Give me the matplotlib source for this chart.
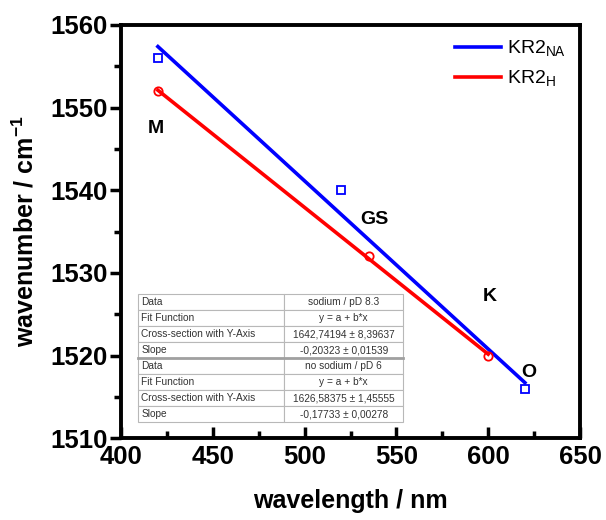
import matplotlib
matplotlib.use("Agg")
import matplotlib.pyplot as plt
import numpy as np

plt.rcParams['font.family'] = ['Liberation Sans', 'DejaVu Sans']
plt.rcParams['mathtext.fontset'] = 'custom'
plt.rcParams['mathtext.rm'] = 'Liberation Sans'
plt.rcParams['mathtext.bf'] = 'Liberation Sans:bold'

# Data
na_x = [420, 520, 620]
na_y = [1556, 1540, 1516]
h_x = [420, 535, 600]
h_y = [1552, 1532, 1520]
na_fit = (1642.74194, -0.20323)
h_fit = (1626.58375, -0.17733)
state_labels = ["M", "GS", "K", "O"]
state_x = [419, 538, 601, 622]
state_y = [1547.5, 1536.5, 1527.2, 1518]
table_rows = ["Data", "Fit Function", "Cross-section with Y-Axis", "Slope"]
table_na = ["sodium / pD 8.3", "y = a + b*x", "1642,74194 ± 8,39637", "-0,20323 ± 0,01539"]
table_h = ["no sodium / pD 6", "y = a + b*x", "1626,58375 ± 1,45555", "-0,17733 ± 0,00278"]
xticks = [400, 450, 500, 550, 600, 650]
yticks = [1510, 1520, 1530, 1540, 1550, 1560]

blue = '#0000ff'
red = '#ff0000'

fig = plt.figure(figsize=(6.06, 5.2), dpi=100)
ax = fig.add_axes([0.200, 0.157, 0.757, 0.795])

xs_na = np.array([min(na_x), max(na_x)])
xs_h = np.array([min(h_x), max(h_x)])
ax.plot(xs_na, na_fit[0] + na_fit[1] * xs_na, color=blue, lw=2.6, label='KR2$_{\\mathregular{NA}}$', zorder=3)
ax.plot(xs_h, h_fit[0] + h_fit[1] * xs_h, color=red, lw=2.6, label='KR2$_{\\mathregular{H}}$', zorder=3)
ax.plot(na_x, na_y, ls='none', marker='s', ms=5.5, mfc='none', mec=blue, mew=1.3, zorder=4)
ax.plot(h_x, h_y, ls='none', marker='o', ms=6, mfc='none', mec=red, mew=1.3, zorder=4)

for lab, x, y in zip(state_labels, state_x, state_y):
    ax.text(x, y, lab, fontsize=14, fontweight='bold', ha='center', va='center')

ax.set_xlim(400, 650)
ax.set_ylim(1510, 1560)
ax.set_xticks(xticks)
ax.set_yticks(yticks)
ax.set_xticks(np.arange(425, 650, 50), minor=True)
ax.set_yticks(np.arange(1515, 1560, 10), minor=True)
ax.tick_params(axis='x', which='both', direction='in', labelsize=18.5, pad=5)
ax.tick_params(axis='y', which='both', direction='out', labelsize=18.5, pad=2)
ax.tick_params(which='major', length=8, width=2.5)
ax.tick_params(which='minor', length=5, width=2.5)
for lbl in ax.get_xticklabels() + ax.get_yticklabels():
    lbl.set_fontweight('bold')
for s in ax.spines.values():
    s.set_linewidth(2.8)

ax.set_xlabel('wavelength / nm', fontsize=18, fontweight='bold', labelpad=14)
ax.set_ylabel('wavenumber / cm$^{\\mathregular{-1}}$', fontsize=18, fontweight='bold', labelpad=8)

leg = ax.legend(loc='upper right', frameon=False, fontsize=14, handlelength=2.4,
                handletextpad=0.3, borderaxespad=0.3, labelspacing=0.5)

# Table
cells = [[r, v] for r, v in zip(table_rows, table_na)] + [[r, v] for r, v in zip(table_rows, table_h)]
tbl = ax.table(cellText=cells, bbox=[0.037, 0.039, 0.578, 0.309], colWidths=[0.55, 0.45],
               zorder=2)
tbl.auto_set_font_size(False)
tbl.set_fontsize(7.3)
for (r, c), cell in tbl.get_celld().items():
    cell.set_edgecolor('#b8b8b8')
    cell.set_linewidth(0.8)
    cell.set_facecolor('white')
    if c == 0:
        cell.get_text().set_ha('left')
        cell.PAD = 0.02
    else:
        cell.get_text().set_ha('center')
    cell.get_text().set_color('#333333')
# separator between the two tables
ax.plot([0.037, 0.615], [0.039 + 0.309 / 2] * 2, transform=ax.transAxes,
        color='#a0a0a0', lw=2, zorder=5)

fig.savefig('out.png', dpi=100)
